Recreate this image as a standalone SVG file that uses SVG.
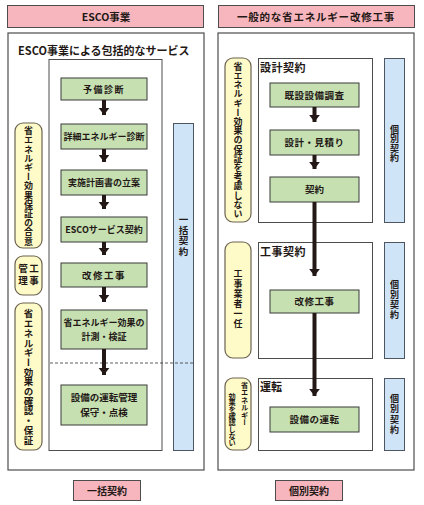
<svg xmlns="http://www.w3.org/2000/svg" width="424" height="505" viewBox="0 0 424 505">
<style>
text{font-family:"Noto Sans CJK JP","Noto Sans",sans-serif;fill:#231815;font-weight:bold}
.hdr{fill:#f7b6be;stroke:#4d4d4d;stroke-width:1}
.outer{fill:#fff;stroke:#4d4d4d;stroke-width:1.2}
.inner{fill:#fff;stroke:#4d4d4d;stroke-width:1}
.g{fill:#c6e0b2;stroke:#3a3a3a;stroke-width:1}
.y{fill:#fffbc8;stroke:#6b6250;stroke-width:1.2}
.b{fill:#cfe4f7;stroke:#4d5560;stroke-width:1}
.v{writing-mode:vertical-rl;text-anchor:middle}
.gt{font-size:9px;text-anchor:middle}
.ht{font-size:10.5px;text-anchor:middle}
.lb{font-size:11px}
.arr{stroke:#231815;stroke-width:4;fill:none}
</style>
<defs>
<marker id="ah" markerUnits="userSpaceOnUse" markerWidth="12" markerHeight="12" refX="7" refY="5.5" orient="auto">
<path d="M0,0.2 L7,5.5 L0,10.8 Z" fill="#231815"/>
</marker>
</defs>

<!-- Left column -->
<g id="left-header">
<rect class="hdr" x="7.5" y="5.5" width="196" height="22"/>
<text class="ht" x="106" y="20.5">ESCO事業</text>
</g>
<g id="left-outer">
<rect class="outer" x="8" y="33" width="196" height="437"/>
<text class="lb" x="18" y="55">ESCO事業による包括的なサービス</text>
</g>
<g id="left-inner">
<rect class="inner" x="49" y="59.5" width="113" height="391"/>
</g>
<g id="left-blue">
<rect class="b" x="173.5" y="123.5" width="20" height="327"/>
<text class="v" x="183.5" y="236" style="font-size:9.5px;letter-spacing:1px">一括契約</text>
</g>
<g id="pill-goui">
<rect class="y" x="15" y="123" width="27" height="125" rx="8"/>
<text class="v" x="28.5" y="186" style="font-size:9px;letter-spacing:0.2px">省エネルギー効果保証の合意</text>
</g>
<g id="pill-kanri">
<rect class="y" x="15" y="256" width="27" height="39" rx="8"/>
<text class="v" x="34" y="275.5" style="font-size:9.5px;letter-spacing:2px">工事</text>
<text class="v" x="23" y="275.5" style="font-size:9.5px;letter-spacing:2px">管理</text>
</g>
<g id="pill-kakunin">
<rect class="y" x="15" y="303" width="27" height="147" rx="8"/>
<text class="v" x="28.5" y="377" style="font-size:9.5px;letter-spacing:0.2px">省エネルギー効果の確認・保証</text>
</g>
<g id="n-yobi">
<rect class="g" x="61" y="78" width="86" height="22"/>
<text class="gt" x="104" y="92.5" style="letter-spacing:1.5px">予備診断</text>
</g>
<g id="n-shosai">
<rect class="g" x="61" y="124" width="86" height="25"/>
<text class="gt" x="104" y="140">詳細エネルギー診断</text>
</g>
<g id="n-jisshi">
<rect class="g" x="61" y="170" width="86" height="25"/>
<text class="gt" x="104" y="186">実施計画書の立案</text>
</g>
<g id="n-esco">
<rect class="g" x="61" y="217" width="86" height="25"/>
<text class="gt" x="104" y="233">ESCOサービス契約</text>
</g>
<g id="n-kaishu-l">
<rect class="g" x="61" y="263" width="86" height="24"/>
<text class="gt" x="104" y="279" style="letter-spacing:1.5px;font-size:9.5px">改修工事</text>
</g>
<g id="n-keisoku">
<rect class="g" x="61" y="310" width="86" height="39"/>
<text class="gt" x="104" y="325.5">省エネルギー効果の</text>
<text class="gt" x="104" y="340">計測・検証</text>
</g>
<g id="n-unten-l">
<rect class="g" x="61" y="385" width="86" height="40"/>
<text class="gt" x="104" y="401" style="font-size:9.5px">設備の運転管理</text>
<text class="gt" x="104" y="416" style="font-size:9.5px">保守・点検</text>
</g>
<g id="left-bottom">
<rect class="hdr" x="73.5" y="480.5" width="67" height="20"/>
<text class="ht" x="107" y="494.5" style="font-size:10px">一括契約</text>
</g>

<!-- Right column -->
<g id="right-header">
<rect class="hdr" x="218.5" y="5.5" width="196" height="22"/>
<text class="ht" x="316" y="20.5" style="letter-spacing:0.8px">一般的な省エネルギー改修工事</text>
</g>
<g id="right-outer">
<rect class="outer" x="218" y="33" width="196" height="437"/>
</g>
<g id="box-sekkei">
<rect class="inner" x="258.5" y="58.5" width="114" height="164"/>
<text class="lb" x="260" y="72" style="letter-spacing:0.5px">設計契約</text>
</g>
<g id="box-koji">
<rect class="inner" x="258.5" y="242.5" width="114" height="116"/>
<text class="lb" x="260" y="256" style="letter-spacing:0.5px">工事契約</text>
</g>
<g id="box-unten">
<rect class="inner" x="258.5" y="378.5" width="114" height="72"/>
<text class="lb" x="260" y="391">運転</text>
</g>
<g id="pill-kouryo">
<rect class="y" x="225" y="58" width="26" height="164" rx="8"/>
<text class="v" x="238" y="140" style="font-size:9px;letter-spacing:0.2px">省エネルギー効果の保証を考慮しない</text>
</g>
<g id="pill-ichinin">
<rect class="y" x="225" y="242" width="26" height="116" rx="8"/>
<text class="v" x="238" y="299" style="font-size:9px;letter-spacing:1px">工事業者一任</text>
</g>
<g id="pill-kakuninshinai">
<rect class="y" x="225" y="378" width="26" height="72" rx="8"/>
<text class="v" x="244.5" y="404" style="font-size:7.2px;letter-spacing:0.3px">省エネルギー</text>
<text class="v" x="232" y="419" style="font-size:7.2px;letter-spacing:-0.5px">効果を確認しない</text>
</g>
<g id="blue-1">
<rect class="b" x="384.5" y="58.5" width="20" height="164"/>
<text class="v" x="394.5" y="144" style="font-size:9px;letter-spacing:0.5px">個別契約</text>
</g>
<g id="blue-2">
<rect class="b" x="384.5" y="242.5" width="20" height="116"/>
<text class="v" x="394.5" y="300" style="font-size:9px;letter-spacing:1px">個別契約</text>
</g>
<g id="blue-3">
<rect class="b" x="384.5" y="378.5" width="20" height="72"/>
<text class="v" x="394.5" y="415" style="font-size:9px;letter-spacing:1.5px">個別契約</text>
</g>
<g id="n-kisetsu">
<rect class="g" x="270" y="83" width="89" height="24"/>
<text class="gt" x="314.5" y="98.5" style="font-size:9.5px;letter-spacing:0.5px">既設設備調査</text>
</g>
<g id="n-sekkei">
<rect class="g" x="270" y="130" width="89" height="25"/>
<text class="gt" x="314.5" y="146" style="font-size:9.5px;letter-spacing:0.5px">設計・見積り</text>
</g>
<g id="n-keiyaku">
<rect class="g" x="270" y="177" width="89" height="25"/>
<text class="gt" x="314.5" y="193" style="font-size:9.5px">契約</text>
</g>
<g id="n-kaishu-r">
<rect class="g" x="270" y="290" width="89" height="23"/>
<text class="gt" x="314.5" y="305" style="font-size:9.5px;letter-spacing:0.5px">改修工事</text>
</g>
<g id="n-unten-r">
<rect class="g" x="270" y="407" width="89" height="25"/>
<text class="gt" x="314.5" y="423" style="font-size:9.5px;letter-spacing:0.5px">設備の運転</text>
</g>
<g id="right-bottom">
<rect class="hdr" x="275.5" y="480.5" width="67" height="20"/>
<text class="ht" x="309" y="494.5" style="font-size:10px">個別契約</text>
</g>

<!-- dashed separator -->
<line x1="50" y1="363" x2="193" y2="363" stroke="#333" stroke-width="0.8" stroke-dasharray="3,2"/>

<g id="connectors">
<line class="arr" x1="104" y1="100" x2="104" y2="115" marker-end="url(#ah)"/>
<line class="arr" x1="104" y1="149" x2="104" y2="162" marker-end="url(#ah)"/>
<line class="arr" x1="104" y1="195" x2="104" y2="209" marker-end="url(#ah)"/>
<line class="arr" x1="104" y1="242" x2="104" y2="255" marker-end="url(#ah)"/>
<line class="arr" x1="104" y1="287" x2="104" y2="302" marker-end="url(#ah)"/>
<line class="arr" x1="104" y1="349" x2="104" y2="375" marker-end="url(#ah)"/>
<line class="arr" x1="314.5" y1="107" x2="314.5" y2="122" marker-end="url(#ah)"/>
<line class="arr" x1="314.5" y1="155" x2="314.5" y2="169" marker-end="url(#ah)"/>
<line class="arr" x1="314.5" y1="202" x2="314.5" y2="276" marker-end="url(#ah)"/>
<line class="arr" x1="314.5" y1="313" x2="314.5" y2="396" marker-end="url(#ah)"/>
</g>
</svg>
